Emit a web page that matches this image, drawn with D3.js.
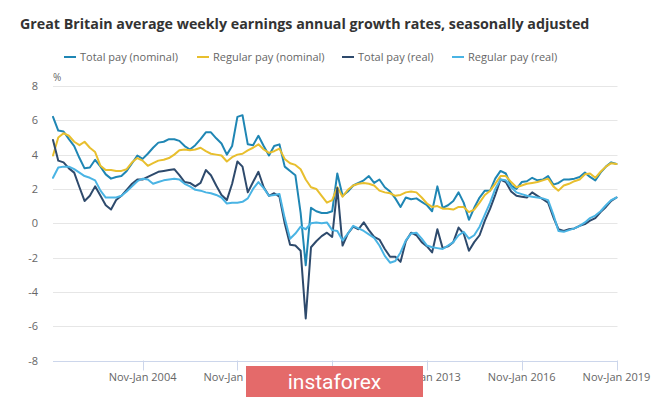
<!DOCTYPE html>
<html><head><meta charset="utf-8">
<script src="https://cdn.jsdelivr.net/npm/d3@7"></script>
<style>
body{margin:0;background:#fff;}
svg{display:block;font-family:"Open Sans",sans-serif;}
</style></head><body>
<svg id="chart" width="665" height="398"></svg>
<script>
// ---- data (3-month average, annual growth %, one value every two months, Jan-Mar 2001 .. Nov-Jan 2019)
const titleText = "Great Britain average weekly earnings annual growth rates, seasonally adjusted";
const seriesNames = ["Total pay (nominal)", "Regular pay (nominal)", "Total pay (real)", "Regular pay (real)"];
const seriesColors = ["#1f86b4", "#e8bf2e", "#2e4a6c", "#4ab4e4"];
const firstMonth = "2001-03";
const lastMonth = "2019-01";

const totalNominal = [
 6.2, 5.4, 5.35, 4.9, 4.5, 3.8,
 3.2, 3.25, 3.7, 3.3, 2.85, 2.6,
 2.7, 2.75, 3.05, 3.5, 3.95, 3.75,
 4.05, 4.4, 4.7, 4.75, 4.9, 4.9,
 4.8, 4.5, 4.3, 4.55, 4.9, 5.3,
 5.3, 4.95, 4.65, 4.0, 4.5, 6.2,
 6.3, 4.6, 4.55, 5.1, 4.5, 3.95,
 4.5, 4.6, 3.3, 3.05, 2.8, 0.6,
 -2.45, 0.9, 0.7, 0.6, 0.6, 0.7,
 2.9, 1.6, 1.85, 2.2, 2.35, 2.5,
 2.75, 2.35, 2.55, 2.1, 1.85, 1.45,
 0.95, 1.5, 1.4, 1.45, 1.25, 1.05,
 0.7, 2.15, 0.9, 1.05, 1.3, 1.8,
 1.2, 0.2, 0.9, 1.5, 1.9, 1.9,
 2.6, 3.05, 2.9, 2.2, 2.0, 2.4,
 2.45, 2.65, 2.5, 2.55, 2.75, 2.25,
 2.35, 2.55, 2.55, 2.6, 2.7, 2.95,
 2.7, 2.5, 2.95, 3.3, 3.55, 3.45];

const regularNominal = [
 3.95, 5.0, 5.25, 5.1, 4.75, 4.55,
 4.75, 4.4, 4.15, 3.35, 3.1, 3.1,
 3.05, 3.05, 3.15, 3.55, 3.8, 3.65,
 3.35, 3.5, 3.65, 3.7, 3.8, 4.0,
 4.25, 4.3, 4.25, 4.3, 4.4, 4.2,
 4.05, 4.0, 3.95, 3.6, 3.85, 4.0,
 4.05, 4.25, 4.4, 4.6, 4.3, 4.1,
 4.2, 4.35, 3.75, 3.5, 3.4, 3.15,
 2.55, 2.1, 2.0, 1.6, 1.2, 1.35,
 2.1, 1.55, 1.95, 2.2, 2.3, 2.35,
 2.3, 2.2, 1.9, 1.8, 1.75, 1.6,
 1.65, 1.8, 1.85, 1.8, 1.5, 1.15,
 0.95, 1.0, 0.85, 0.85, 0.8, 0.95,
 0.95, 0.65, 0.8, 1.2, 1.65, 1.9,
 2.3, 2.75, 2.75, 2.4, 2.1, 2.2,
 2.3, 2.35, 2.4, 2.5, 2.6, 2.15,
 1.9, 2.2, 2.3, 2.45, 2.55, 2.85,
 2.9, 2.65, 3.0, 3.3, 3.5, 3.45];

const totalReal = [
 4.85, 3.65, 3.55, 3.2, 2.95, 2.1,
 1.3, 1.6, 2.15, 1.6, 1.05, 0.8,
 1.35, 1.6, 1.95, 2.3, 2.55, 2.55,
 2.7, 2.85, 3.0, 3.05, 3.1, 3.15,
 2.8, 2.4, 2.35, 2.15, 2.35, 3.1,
 2.8, 2.2, 1.65, 1.35, 2.3, 3.6,
 3.3, 1.8, 2.4, 3.0, 2.1, 1.6,
 1.75, 1.55, 0.0, -1.25, -1.3, -1.6,
 -5.55, -1.4, -1.05, -0.75, -0.55, -0.8,
 2.05, -1.3, -0.6, -0.2, -0.35, 0.05,
 -0.4, -0.8, -0.95, -1.5, -1.95, -1.95,
 -2.25, -1.05, -0.55, -0.7, -1.1, -1.35,
 -1.7, -0.35, -1.45, -1.35, -1.1, -0.25,
 -0.6, -1.6, -1.1, -0.7, 0.15, 0.85,
 1.65, 2.55, 2.4, 1.85, 1.6, 1.55,
 1.5, 1.8, 1.6, 1.4, 1.2, 0.35,
 -0.35, -0.45, -0.35, -0.3, -0.15, -0.05,
 0.15, 0.3, 0.65, 0.95, 1.3, 1.5];

const regularReal = [
 2.65, 3.25, 3.3, 3.3, 3.15, 2.95,
 2.75, 2.65, 2.5, 1.9, 1.5, 1.5,
 1.5, 1.6, 1.85, 2.15, 2.45, 2.6,
 2.55, 2.3, 2.4, 2.5, 2.55, 2.6,
 2.55, 2.3, 2.15, 1.95, 1.9, 1.8,
 1.75, 1.65, 1.5, 1.15, 1.2, 1.2,
 1.25, 1.45, 2.0, 2.4, 2.05, 1.6,
 1.65, 1.7, 0.3, -0.9, -0.6, -0.2,
 -0.35, 0.0, 0.05, 0.0, 0.05, -0.4,
 -0.45, -1.0, -0.6, -0.15, -0.3, -0.45,
 -0.65, -0.85, -1.3, -1.9, -2.3, -2.2,
 -1.7, -1.0, -0.6, -0.55, -0.9, -1.3,
 -1.4, -1.45, -1.5, -1.3, -1.1, -0.7,
 -0.5, -0.9, -0.7, -0.2, 0.5, 1.2,
 2.0, 2.55, 2.5, 2.1, 1.8, 1.7,
 1.6, 1.55, 1.5, 1.45, 1.35, 0.5,
 -0.45, -0.5, -0.4, -0.3, -0.15, 0.05,
 0.3, 0.45, 0.7, 1.05, 1.35, 1.5];

const yTicks = [-8, -6, -4, -2, 0, 2, 4, 6, 8];
const xTickMonths = ["2004-01", "2007-01", "2010-01", "2013-01", "2016-01", "2019-01"];
const xTickLabels = ["Nov-Jan 2004", "Nov-Jan 2007", "Nov-Jan 2010", "Nov-Jan 2013", "Nov-Jan 2016", "Nov-Jan 2019"];

// ---- build
const parseM = d3.timeParse("%Y-%m");
const months = d3.timeMonth.every(2).range(parseM(firstMonth), d3.timeDay.offset(parseM(lastMonth), 1));
const allSeries = [totalNominal, regularNominal, totalReal, regularReal];

const svg = d3.select("#chart");
const plot = {left: 53, right: 616.5, top: 86, bottom: 360.5};

const x = d3.scaleTime().domain([parseM(firstMonth), parseM(lastMonth)]).range([plot.left, plot.right]);
const y = d3.scaleLinear().domain([-8, 8]).range([plot.bottom, plot.top]);

// title
const title = svg.append("text").attr("x", 20).attr("y", 29)
  .attr("font-weight", 700).attr("font-size", 15).attr("fill", "#333333").text(titleText);
const tw = title.node().getComputedTextLength();
title.attr("font-size", 15 * 570 / tw);

// legend
const legendX = [64, 197, 342, 452];
const lg = svg.append("g");
seriesNames.forEach((n, i) => {
  const g = lg.append("g").attr("transform", `translate(${legendX[i]},57)`);
  g.append("line").attr("x1", 0).attr("x2", 12).attr("y1", 0).attr("y2", 0)
    .attr("stroke", seriesColors[i]).attr("stroke-width", 2);
  g.append("text").attr("x", 16).attr("y", 4).attr("font-size", 11).attr("fill", "#666666").text(n);
});

// grid + y labels
const yAxis = svg.append("g");
yAxis.selectAll("line").data(yTicks).join("line")
  .attr("x1", plot.left).attr("x2", plot.right + 1)
  .attr("y1", d => Math.round(y(d)) + 0.5).attr("y2", d => Math.round(y(d)) + 0.5)
  .attr("stroke", d => d === -8 ? "#ccd6eb" : "#e6e6e6").attr("stroke-width", 1);
yAxis.selectAll("text").data(yTicks).join("text")
  .attr("x", 38).attr("y", d => y(d) + 4).attr("text-anchor", "end")
  .attr("font-size", 11).attr("fill", "#666666").text(d => d);
svg.append("text").attr("x", 53).attr("y", 81).attr("font-size", 10).attr("fill", "#666666").text("%");

// x ticks
const xAxis = svg.append("g");
const tickDates = xTickMonths.map(parseM);
xAxis.selectAll("line").data(tickDates).join("line")
  .attr("x1", d => Math.round(x(d)) + 0.5).attr("x2", d => Math.round(x(d)) + 0.5)
  .attr("y1", plot.bottom).attr("y2", plot.bottom + 10)
  .attr("stroke", "#ccd6eb").attr("stroke-width", 1);
xAxis.selectAll("text").data(tickDates).join("text")
  .attr("x", d => x(d)).attr("y", 381).attr("text-anchor", "middle")
  .attr("font-size", 11).attr("fill", "#666666").text((d, i) => xTickLabels[i]);

// lines
const line = d3.line().x((d, i) => x(months[i])).y(d => y(d));
allSeries.forEach((s, i) => {
  svg.append("path").datum(s).attr("d", line).attr("fill", "none")
    .attr("stroke", seriesColors[i]).attr("stroke-width", 2)
    .attr("stroke-linejoin", "round").attr("stroke-linecap", "round");
});

// watermark
svg.append("rect").attr("x", 246).attr("y", 366).attr("width", 177).attr("height", 31).attr("fill", "#e46a6a");
svg.append("text").attr("x", 334.5).attr("y", 389).attr("text-anchor", "middle")
  .attr("font-family", "Roboto, sans-serif").attr("font-size", 21).attr("fill", "#ffffff").text("instaforex");
</script>
</body></html>
